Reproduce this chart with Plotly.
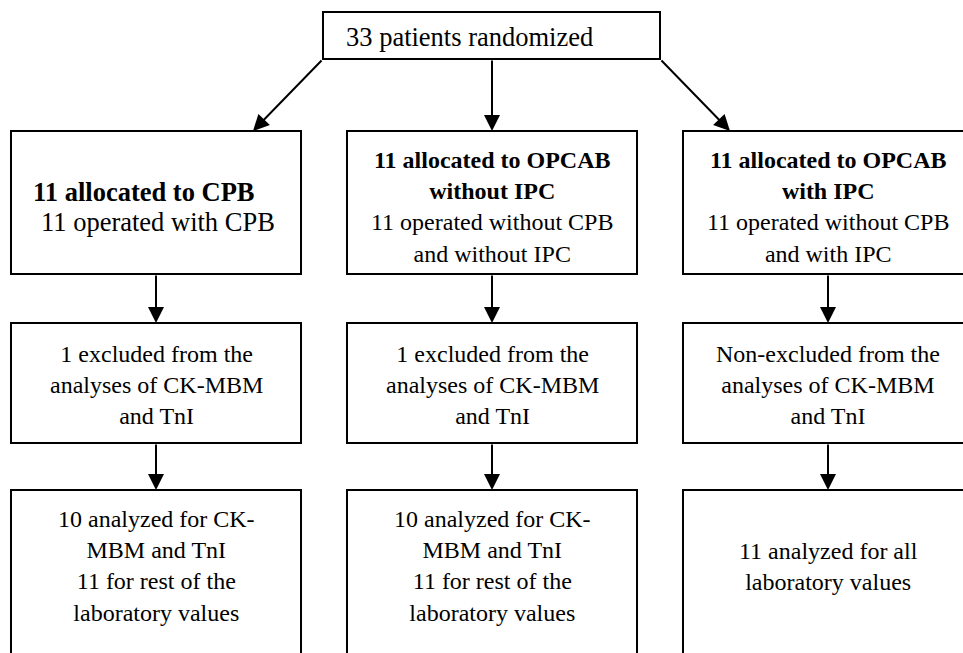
import plotly.graph_objects as go

# flowchart text, one entry per box
top_text = "33 patients randomized"
row1_text = [
    ["<b>11 allocated to CPB</b>", "11 operated with CPB"],
    "<b>11 allocated to OPCAB<br>without IPC</b><br>11 operated without CPB<br>and without IPC",
    "<b>11 allocated to OPCAB<br>with IPC</b><br>11 operated without CPB<br>and with IPC",
]
row2_text = [
    "1 excluded from the<br>analyses of CK-MBM<br>and TnI",
    "1 excluded from the<br>analyses of CK-MBM<br>and TnI",
    "Non-excluded from the<br>analyses of CK-MBM<br>and TnI",
]
row3_text = [
    "10 analyzed for CK-<br>MBM and TnI<br>11 for rest of the<br>laboratory values",
    "10 analyzed for CK-<br>MBM and TnI<br>11 for rest of the<br>laboratory values",
    "11 analyzed for all<br>laboratory values",
]

# geometry (page pixels)
W, H = 963, 653
col_left = [11, 347, 683]
col_w = 290
top_box = (323, 12, 660, 59)
rows_y = [(131, 274), (323, 443), (490, 720)]
text_y = [207, 385, 566]
FONT = "Liberation Serif"

fig = go.Figure()
shapes = []
annotations = []


def label(x, y, txt, size=24, xanchor="center", align="center"):
    return dict(x=x, y=y, text=txt, showarrow=False, xanchor=xanchor, yanchor="middle",
                align=align, font=dict(size=size, color="black", family=FONT))


# top box
x0, y0, x1, y1 = top_box
shapes.append(dict(type="rect", x0=x0, y0=y0, x1=x1, y1=y1,
                   line=dict(color="black", width=2), fillcolor="white"))
annotations.append(label(344, (y0 + y1) / 2 + 1, top_text, size=26.5, xanchor="left"))

# grid of boxes
for r, texts in enumerate([row1_text, row2_text, row3_text]):
    ry0, ry1 = rows_y[r]
    for c, txt in enumerate(texts):
        bx0 = col_left[c]
        bx1 = bx0 + col_w
        shapes.append(dict(type="rect", x0=bx0, y0=ry0, x1=bx1, y1=ry1,
                           line=dict(color="black", width=2), fillcolor="white"))
        if isinstance(txt, list):
            # CPB box: two larger lines, second one indented a little
            annotations.append(label(31, 192, txt[0], size=26.5, xanchor="left"))
            annotations.append(label(39, 222, txt[1], size=26.5, xanchor="left"))
        else:
            annotations.append(label((bx0 + bx1) / 2, text_y[r], txt))


def arrow(xt, yt, xh, yh):
    return dict(x=xh, y=yh, ax=xt, ay=yt, xref="x", yref="y", axref="x", ayref="y",
                text="", showarrow=True, arrowhead=2, arrowsize=1.6, arrowwidth=2,
                arrowcolor="black", standoff=0, startstandoff=0)


centers = [c + col_w / 2 for c in col_left]
# from top box to first row
annotations.append(arrow(top_box[0], top_box[3], 253, rows_y[0][0]))
annotations.append(arrow(centers[1], top_box[3], centers[1], rows_y[0][0]))
annotations.append(arrow(top_box[2], top_box[3], 730, rows_y[0][0]))
# vertical arrows between rows
for cx in centers:
    annotations.append(arrow(cx, rows_y[0][1], cx, rows_y[1][0]))
    annotations.append(arrow(cx, rows_y[1][1], cx, rows_y[2][0]))

fig.update_layout(
    width=W, height=H,
    margin=dict(l=0, r=0, t=0, b=0),
    plot_bgcolor="white", paper_bgcolor="white",
    xaxis=dict(range=[0, W], visible=False, fixedrange=True),
    yaxis=dict(range=[H, 0], visible=False, fixedrange=True),
    shapes=shapes,
    annotations=annotations,
    showlegend=False,
)

# drop the default page margin so page pixels match the axis units
fig.write_html("out.html", config={"displayModeBar": False},
               post_script="document.body.style.margin='0';")
